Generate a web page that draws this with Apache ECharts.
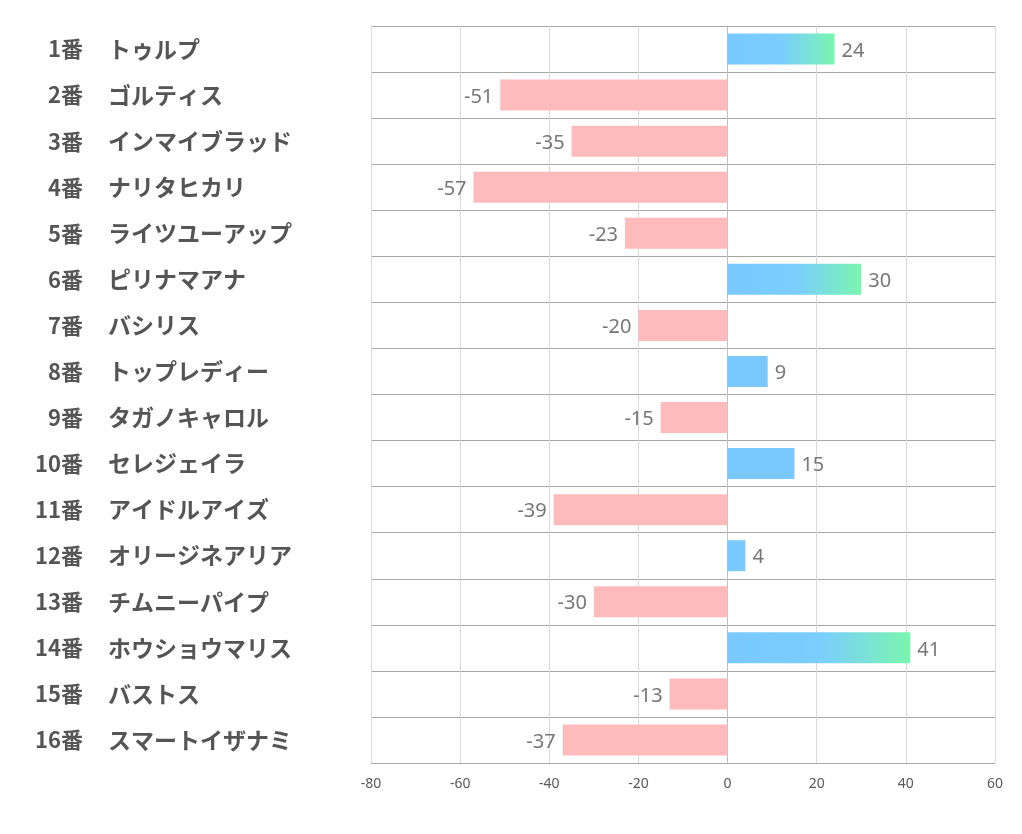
<!DOCTYPE html>
<html><head><meta charset="utf-8">
<script src="https://cdn.jsdelivr.net/npm/echarts@6/dist/echarts.min.js"></script>
<style>html,body{margin:0;padding:0;background:#fff}#c{width:1022px;height:834px}</style>
</head><body><div id="c"></div>
<script>
const numbers = ['1番','2番','3番','4番','5番','6番','7番','8番','9番','10番','11番','12番','13番','14番','15番','16番'];
const horses = ['トゥルプ','ゴルティス','インマイブラッド','ナリタヒカリ','ライツユーアップ','ピリナマアナ','バシリス','トップレディー','タガノキャロル','セレジェイラ','アイドルアイズ','オリージネアリア','チムニーパイプ','ホウショウマリス','バストス','スマートイザナミ'];
const values = [24,-51,-35,-57,-23,30,-20,9,-15,15,-39,4,-30,41,-13,-37];
const xTicks = [-80,-60,-40,-20,0,20,40,60];

const blue = '#79C9FF', green = '#7AF5B0', pink = '#FFBBBC';
const data = values.map(v=>{
  let color;
  if (v < 0) color = pink;
  else if (v >= 20) color = {type:'linear',x:0,y:0,x2:1,y2:0,colorStops:[{offset:0,color:blue},{offset:0.5,color:'#7BCDFE'},{offset:1,color:green}]};
  else color = blue;
  return {value:v,itemStyle:{color},label:{position: v<0?'left':'right'}};
});

const labelFont = {fontWeight:'bold',color:'#555',fontFamily:'Noto Sans CJK JP',padding:[4,0,0,0]};
const chart = echarts.init(document.getElementById('c'));
chart.setOption({
  animation:false,
  grid:{left:371,right:27,top:26,bottom:71,containLabel:false},
  xAxis:{type:'value',min:xTicks[0],max:xTicks[xTicks.length-1],interval:20,
    axisLine:{show:false},axisTick:{show:false},
    splitLine:{show:true,lineStyle:{color:'#D9D9D9',width:1}},
    axisLabel:{color:'#595959',fontSize:14,margin:14,fontFamily:'Noto Sans'}},
  yAxis:[
    {type:'category',inverse:true,data:horses,position:'left',offset:0,
      axisLine:{show:true,lineStyle:{color:'#BFBFBF'}},axisTick:{show:false},
      splitLine:{show:true,lineStyle:{color:'#A6A6A6',width:1}},
      axisLabel:Object.assign({margin:263,align:'left',fontSize:23},labelFont)},
    {type:'category',inverse:true,data:numbers,position:'left',offset:0,
      axisLine:{show:false},axisTick:{show:false},splitLine:{show:false},
      axisLabel:Object.assign({margin:288,align:'right',fontSize:22},labelFont)}
  ],
  series:[{type:'bar',data:data,barWidth:31,yAxisIndex:0,
    label:{show:true,color:'#777',fontSize:20,distance:7,offset:[0,2],fontFamily:'Noto Sans'}}]
});
</script></body></html>
